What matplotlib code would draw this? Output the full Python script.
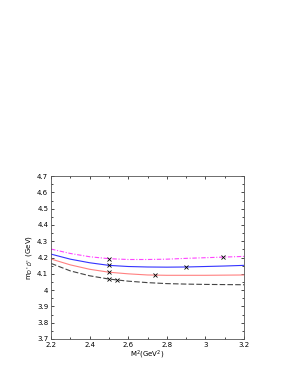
import matplotlib
matplotlib.use("Agg")
import matplotlib.pyplot as plt
from matplotlib.ticker import MultipleLocator

# Borel parameter grid (GeV^2)
m2 = [2.2, 2.3, 2.4, 2.5, 2.6, 2.7, 2.8, 2.9, 3.0, 3.1, 3.2]

# mass curves (GeV)
mass_magenta = [4.252, 4.225, 4.205, 4.193, 4.188, 4.188, 4.190, 4.195, 4.199, 4.203, 4.207]
mass_blue = [4.221, 4.190, 4.168, 4.152, 4.145, 4.142, 4.141, 4.142, 4.145, 4.148, 4.152]
mass_red = [4.191, 4.155, 4.128, 4.110, 4.100, 4.093, 4.091, 4.091, 4.091, 4.092, 4.093]
mass_black = [4.164, 4.118, 4.088, 4.068, 4.055, 4.046, 4.040, 4.037, 4.035, 4.034, 4.033]

# window edges marked with crosses
cross_magenta = ([2.5, 3.09], [4.193, 4.204])
cross_blue = ([2.5, 2.9], [4.152, 4.142])
cross_red = ([2.5, 2.74], [4.110, 4.092])
cross_black = ([2.5, 2.54], [4.068, 4.063])

xticks = [2.2, 2.4, 2.6, 2.8, 3.0, 3.2]
xticklabels = ["2.2", "2.4", "2.6", "2.8", "3", "3.2"]
yticks = [3.7, 3.8, 3.9, 4.0, 4.1, 4.2, 4.3, 4.4, 4.5, 4.6, 4.7]
yticklabels = ["3.7", "3.8", "3.9", "4", "4.1", "4.2", "4.3", "4.4", "4.5", "4.6", "4.7"]

fig = plt.figure(figsize=(2.95, 3.82), dpi=100)
ax = fig.add_axes([0.173, 0.1126, 0.654, 0.4264])

ax.plot(m2, mass_magenta, color="#ff44ff", lw=0.8, dashes=(4, 1.5, 1, 1.5))
ax.plot(m2, mass_blue, color="#3333ff", lw=0.8)
ax.plot(m2, mass_red, color="#ff8080", lw=0.8)
ax.plot(m2, mass_black, color="#444444", lw=0.8, dashes=(5, 2))

for xs, ys in [cross_magenta, cross_blue, cross_red, cross_black]:
    ax.plot(xs, ys, "x", color="black", ms=2.5, mew=0.6, ls="none")

ax.set_xlim(2.2, 3.2)
ax.set_ylim(3.7, 4.7)
ax.set_xticks(xticks)
ax.set_xticklabels(xticklabels)
ax.set_yticks(yticks)
ax.set_yticklabels(yticklabels)
ax.xaxis.set_minor_locator(MultipleLocator(0.1))
ax.yaxis.set_minor_locator(MultipleLocator(0.05))

ax.tick_params(which="both", direction="in", top=True, right=True,
               labelsize=5, width=0.5, pad=2)
ax.tick_params(which="major", length=2.5)
ax.tick_params(which="minor", length=1.2)
for s in ax.spines.values():
    s.set_linewidth(0.6)
    s.set_color("#555555")

ax.set_xlabel(r"M$^2$(GeV$^2$)", fontsize=5, labelpad=1)
ax.set_ylabel(r"m$_{D^*\bar{D}^*}$ (GeV)", fontsize=5, labelpad=2)

fig.savefig("out.png", dpi=100)
